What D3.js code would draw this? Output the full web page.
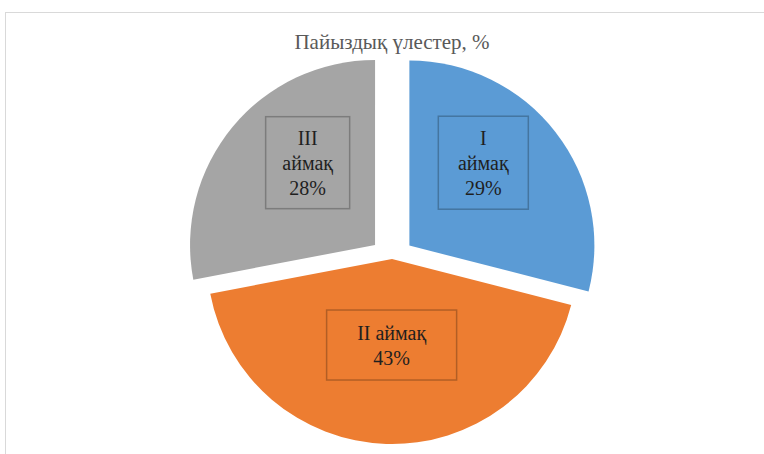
<!DOCTYPE html>
<html>
<head>
<meta charset="utf-8">
<script src="https://cdn.jsdelivr.net/npm/d3@7"></script>
<style>
  body { margin: 0; background: #fff; }
  text { font-family: "Liberation Serif", "Times New Roman", serif; }
</style>
</head>
<body>
<div id="chart"></div>
<script>
// chart data
var regions = ["I", "II", "III"];
var shares = [29, 43, 28];
var labelLines = [["I", "аймақ", "29%"], ["II аймақ", "43%"], ["III", "аймақ", "28%"]];
var colors = ["#5b9bd5", "#ed7d31", "#a5a5a5"];
var chartTitle = "Пайыздық үлестер, %";

// layout (explode distance per slice, label spot as fraction of angle span / radius, label box size)
var explode = [22, 0, 22];
var labelSpot = [[0.40, 0.60], [0.49, 0.465], [0.61, 0.575]];
var labelBox = [[90, 93], [130, 70], [84, 92]];

var W = 764, H = 454;
var cx = 392, cy = 259, radius = 185;

var svg = d3.select("#chart").append("svg")
  .attr("width", W)
  .attr("height", H);

// chart area border (runs off the right / bottom edge)
svg.append("rect")
  .attr("x", 5.5).attr("y", 12.5)
  .attr("width", W + 10).attr("height", H + 10)
  .attr("fill", "none")
  .attr("stroke", "#d9d9d9")
  .attr("stroke-width", 1);

svg.append("text")
  .attr("x", cx)
  .attr("y", 49)
  .attr("text-anchor", "middle")
  .style("font-size", "21px")
  .style("fill", "#595959")
  .text(chartTitle);

var pie = d3.pie().sort(null).value(function(d) { return d; });
var arcs = pie(shares);
var arc = d3.arc().innerRadius(0).outerRadius(radius);

var g = svg.append("g")
  .attr("transform", "translate(" + cx + "," + cy + ")");

var slices = g.selectAll(".slice")
  .data(arcs)
  .enter().append("g")
  .attr("class", "slice")
  .attr("transform", function(d, i) {
    var mid = (d.startAngle + d.endAngle) / 2;
    return "translate(" + (Math.sin(mid) * explode[i]) + "," + (-Math.cos(mid) * explode[i]) + ")";
  });

slices.append("path")
  .attr("d", arc)
  .attr("fill", function(d, i) { return colors[i]; });

// data labels with a darker outline box
var lineH = 25;
slices.each(function(d, i) {
  var a = d.startAngle + (d.endAngle - d.startAngle) * labelSpot[i][0];
  var r = radius * labelSpot[i][1];
  var lx = Math.sin(a) * r, ly = -Math.cos(a) * r;
  var bw = labelBox[i][0], bh = labelBox[i][1];
  var sel = d3.select(this);
  sel.append("rect")
    .attr("x", lx - bw / 2)
    .attr("y", ly - bh / 2)
    .attr("width", bw)
    .attr("height", bh)
    .attr("fill", "none")
    .attr("stroke", d3.color(colors[i]).darker(0.8))
    .attr("stroke-width", 1.5);
  var lines = labelLines[i];
  var t = sel.append("text")
    .attr("text-anchor", "middle")
    .style("font-size", "20px")
    .style("fill", "#1f1f1f");
  lines.forEach(function(s, k) {
    t.append("tspan")
      .attr("x", lx)
      .attr("y", ly + (k - (lines.length - 1) / 2) * lineH + 7)
      .text(s);
  });
});
</script>
</body>
</html>
